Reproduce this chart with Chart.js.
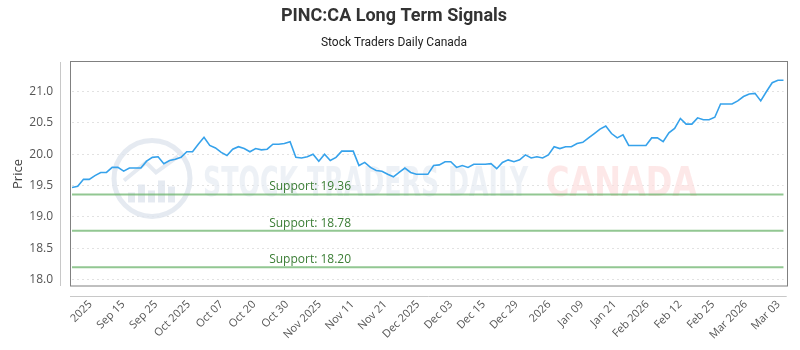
<!DOCTYPE html>
<html>
<head>
<meta charset="utf-8">
<script src="https://cdn.jsdelivr.net/npm/chart.js@4.4.1/dist/chart.umd.min.js"></script>
<style>
    html, body { margin: 0; padding: 0; background: #fff; }
    #wrap { width: 800px; height: 350px; }
</style>
</head>
<body>
<div id="wrap"><canvas id="signalChart"></canvas></div>
<script>
// ข้อมูลกราฟ (อ่านค่าจากภาพต้นฉบับ)
const chartTitle = 'PINC:CA Long Term Signals';
const chartSubtitle = 'Stock Traders Daily Canada';
const yAxisTitle = 'Price';

// ราคาปิดรายวัน
const prices = [
    19.47, 19.49, 19.60, 19.60, 19.66, 19.71, 19.71, 19.79, 19.79, 19.73,
    19.78, 19.78, 19.78, 19.89, 19.95, 19.96, 19.85, 19.90, 19.92, 19.95,
    20.04, 20.04, 20.16, 20.27, 20.14, 20.10, 20.03, 19.98, 20.08, 20.12,
    20.09, 20.04, 20.09, 20.07, 20.08, 20.16, 20.16, 20.17, 20.20, 19.95,
    19.94, 19.96, 20.00, 19.89, 20.00, 19.90, 19.95, 20.05, 20.05, 20.05,
    19.82, 19.87, 19.79, 19.74, 19.73, 19.68, 19.64, 19.71, 19.78, 19.71,
    19.68, 19.68, 19.68, 19.82, 19.83, 19.88, 19.88, 19.79, 19.82, 19.79,
    19.84, 19.84, 19.84, 19.85, 19.77, 19.87, 19.91, 19.88, 19.91, 19.99,
    19.94, 19.96, 19.94, 19.99, 20.12, 20.09, 20.12, 20.12, 20.17, 20.19,
    20.26, 20.33, 20.40, 20.45, 20.33, 20.26, 20.31, 20.14, 20.14, 20.14,
    20.14, 20.26, 20.26, 20.20, 20.34, 20.41, 20.57, 20.48, 20.48, 20.58,
    20.55, 20.55, 20.59, 20.80, 20.80, 20.80, 20.85, 20.92, 20.96, 20.97,
    20.85, 21.00, 21.14, 21.18, 21.18
];

// เส้นแนวรับ
const supportLevels = [19.36, 18.78, 18.20];

// ป้ายแกน X
const tickLabels = [
    '2025', 'Sep 15', 'Sep 25', 'Oct 2025', 'Oct 07', 'Oct 20', 'Oct 30',
    'Nov 2025', 'Nov 11', 'Nov 21', 'Dec 2025', 'Dec 03', 'Dec 15', 'Dec 29',
    '2026', 'Jan 09', 'Jan 21', 'Feb 2026', 'Feb 12', 'Feb 25', 'Mar 2026', 'Mar 03'
];
const tickStart = 3.2;   // ตำแหน่ง (ลำดับวัน) ของป้ายแรก
const tickStep = 5.71;   // ระยะห่างระหว่างป้าย

const yMin = 17.9, yMax = 21.47, yStep = 0.5;

Chart.defaults.font.family = "'Open Sans', sans-serif";
Chart.defaults.color = '#666';

// วาดกรอบ เส้นแกน ลายน้ำ และป้ายแนวรับ
const framePlugin = {
    id: 'frame',
    beforeDatasetsDraw(chart) {
        const { ctx, chartArea: a } = chart;
        ctx.save();
        // โลโก้ลายน้ำ
        const cx = a.left + 80, cy = a.top + a.height * 0.52;
        ctx.strokeStyle = 'rgba(222,229,238,0.8)';
        ctx.lineWidth = 5;
        ctx.beginPath();
        ctx.arc(cx, cy, 38, 0, Math.PI * 2);
        ctx.stroke();
        ctx.fillStyle = 'rgba(222,229,238,0.8)';
        [[-24, 10], [-14, 18], [-4, 12], [6, 22], [16, 16]].forEach(([dx, h]) => {
            ctx.fillRect(cx + dx, cy + 24 - h, 7, h);
        });
        ctx.beginPath();
        ctx.moveTo(cx - 28, cy + 2);
        ctx.lineTo(cx - 6, cy - 16);
        ctx.lineTo(cx + 4, cy - 6);
        ctx.lineTo(cx + 26, cy - 22);
        ctx.lineWidth = 4;
        ctx.stroke();
        // ข้อความลายน้ำ
        const drawStretched = (txt, x, w, color) => {
            ctx.font = "bold 40px 'Liberation Sans Narrow', 'DejaVu Sans Condensed', sans-serif";
            const m = ctx.measureText(txt).width;
            ctx.save();
            ctx.translate(x, a.top + 134);
            ctx.scale(w / m, 1);
            ctx.fillStyle = color;
            ctx.textBaseline = 'alphabetic';
            ctx.fillText(txt, 0, 0);
            ctx.restore();
        };
        drawStretched('STOCK TRADERS DAILY', a.left + 131, 325, 'rgba(230,235,242,0.7)');
        drawStretched('CANADA', a.left + 474, 151, 'rgba(252,222,222,0.7)');
        ctx.restore();
    },
    afterDraw(chart) {
        const { ctx, chartArea: a } = chart;
        const yScale = chart.scales.y;
        ctx.save();
        // กรอบพื้นที่กราฟ
        ctx.strokeStyle = '#808080';
        ctx.lineWidth = 1;
        ctx.strokeRect(Math.round(a.left) - 1.5, Math.round(a.top) - 0.5,
            Math.round(a.width) + 5, Math.round(a.height) + 0.5);
        // เส้นแกนจาง ๆ ด้านซ้ายและด้านล่าง
        ctx.strokeStyle = '#c8c8c8';
        ctx.beginPath();
        ctx.moveTo(Math.round(a.left) - 11.5, a.top);
        ctx.lineTo(Math.round(a.left) - 11.5, a.bottom);
        ctx.moveTo(a.left - 2, Math.round(a.bottom) + 10.5);
        ctx.lineTo(a.right + 3, Math.round(a.bottom) + 10.5);
        ctx.stroke();
        // ป้ายแนวรับ
        ctx.font = "12px 'Open Sans', sans-serif";
        ctx.fillStyle = '#3a7d34';
        ctx.textAlign = 'left';
        ctx.textBaseline = 'alphabetic';
        supportLevels.forEach(level => {
            const y = yScale.getPixelForValue(level);
            ctx.fillText(`Support: ${level.toFixed(2)}`, a.left + a.width * 0.277, y - 4);
        });
        ctx.restore();
    }
};

const datasets = [{
    label: 'Price',
    data: prices.map((p, i) => ({ x: i, y: p })),
    borderColor: '#36a2eb',
    borderWidth: 1.6,
    pointRadius: 0,
    tension: 0
}];
supportLevels.forEach(level => {
    datasets.push({
        label: `Support ${level}`,
        data: [{ x: 0, y: level }, { x: prices.length - 1, y: level }],
        borderColor: 'rgba(110,180,110,0.75)',
        borderWidth: 2,
        pointRadius: 0
    });
});

new Chart(document.getElementById('signalChart'), {
    type: 'line',
    data: { datasets },
    options: {
        responsive: true,
        maintainAspectRatio: false,
        animation: false,
        layout: { padding: { left: 0, right: 12, top: 0, bottom: 0 } },
        scales: {
            x: {
                type: 'linear',
                bounds: 'data',
                min: 0,
                max: prices.length - 1,
                grid: { display: false, drawTicks: false },
                border: { display: false },
                afterBuildTicks(scale) {
                    scale.ticks = tickLabels.map((_, k) => ({ value: tickStart + k * tickStep }));
                },
                afterFit(scale) { scale.height = 64; },
                ticks: {
                    autoSkip: false,
                    minRotation: 45,
                    maxRotation: 45,
                    padding: 12,
                    font: { size: 11 },
                    color: '#555',
                    callback: (v, i) => tickLabels[i] ?? ''
                }
            },
            y: {
                min: yMin,
                max: yMax,
                afterFit(scale) { scale.width = 72; },
                grid: { color: '#e2e2e2', drawTicks: false },
                border: { display: false, dash: [2, 3] },
                ticks: {
                    stepSize: yStep,
                    includeBounds: false,
                    padding: 19,
                    font: { size: 12 },
                    color: '#555',
                    callback: v => v.toFixed(1)
                },
                title: {
                    display: true,
                    text: yAxisTitle,
                    font: { size: 13 },
                    color: '#444',
                    padding: { top: 10, bottom: 0 }
                }
            }
        },
        plugins: {
            legend: { display: false },
            tooltip: { enabled: false },
            title: {
                display: true,
                text: chartTitle,
                color: '#333',
                font: { family: "'Liberation Sans Narrow', 'Roboto', sans-serif", size: 18, weight: 'bold' },
                padding: { top: 6, bottom: 6 }
            },
            subtitle: {
                display: true,
                text: chartSubtitle,
                color: '#222',
                font: { family: "'Liberation Sans Narrow', 'Roboto', sans-serif", size: 12 },
                padding: { top: 2, bottom: 12 }
            }
        }
    },
    plugins: [framePlugin]
});
</script>
</body>
</html>
